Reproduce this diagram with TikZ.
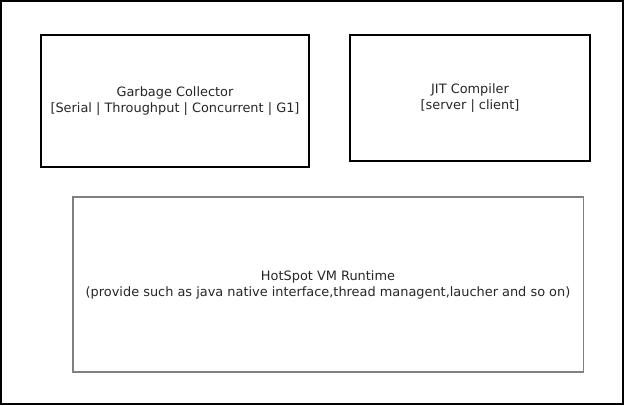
\documentclass[tikz,border=0pt]{standalone}
\usepackage{fontspec}
\setmainfont{DejaVu Sans}
\begin{document}
\begin{tikzpicture}[x=1pt,y=-1pt,
  lbl/.style={font=\fontsize{12.9}{16}\selectfont, text=black!85, align=center},
  boldbox/.style={draw=black, line width=2pt},
  thinbox/.style={draw=black!50, line width=1.5pt}]
\useasboundingbox (0,0) rectangle (624,405);
\draw[boldbox] (1,1) rectangle (623,404);
\draw[boldbox] (41,35) rectangle (309,167);
\draw[boldbox] (350,35) rectangle (590,161);
\draw[thinbox] (73,197) rectangle (583.5,372);
\node[lbl] (gc) at (175,101) {Garbage Collector\\{[}Serial | Throughput | Concurrent | G1{]}};
\node[lbl] (jit) at (470,98) {JIT Compiler\\{[}server | client{]}};
\node[lbl] (hs) at (328,285) {HotSpot VM Runtime\\(provide such as java native interface,thread managent,laucher and so on)};
\end{tikzpicture}
\end{document}
